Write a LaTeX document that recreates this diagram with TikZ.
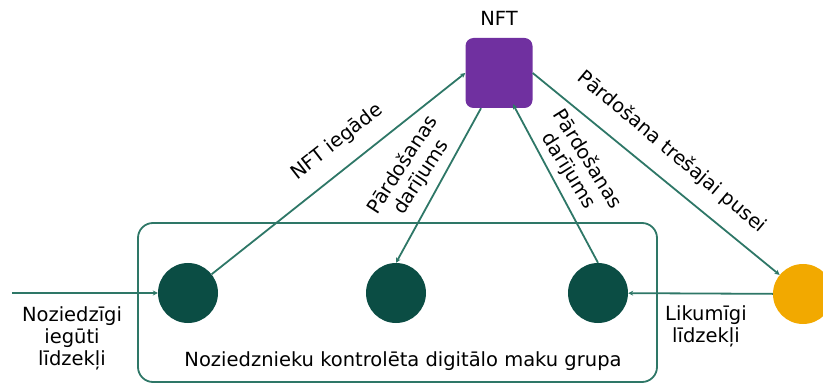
\documentclass[tikz,border=0pt]{standalone}
\usepackage{fontspec}
\setmainfont{DejaVu Sans}
\usetikzlibrary{arrows.meta}
\definecolor{linegreen}{HTML}{2E7767}
\definecolor{walletgreen}{HTML}{0B4D44}
\definecolor{nftpurple}{HTML}{7030A0}
\definecolor{thirdorange}{HTML}{F2A900}
\tikzset{
  lbl/.style={font=\fontsize{19.5}{22}\selectfont, inner sep=1pt, align=center},
  flow/.style={draw=linegreen, line width=1.8pt, -{Stealth[length=5pt,width=5pt]}},
  wallet/.style={circle, fill=walletgreen, minimum size=60pt, inner sep=0pt},
}
\begin{document}
\begin{tikzpicture}[x=1pt,y=-1pt]
	\useasboundingbox (0,0) rectangle (823,385);
	\draw[linegreen, line width=1.8pt, rounded corners=15pt] (138,223) rectangle (657,382);
	\node[lbl] (lgroup) at (403,361) {Noziedznieku kontrolēta digitālo maku grupa};
	
	\node[fill=nftpurple, rounded corners=8pt, minimum width=67pt, minimum height=70pt] (nft) at (499,73) {};
	\node[lbl] (lnft) at (499,18) {NFT};
	
	\node[wallet] (w1) at (188,293) {};
	\node[wallet] (w2) at (396,293) {};
	\node[wallet] (w3) at (598,293) {};
	\node[circle, fill=thirdorange, minimum size=60pt, inner sep=0pt] (buyer) at (803,294) {};
	\coordinate (src) at (12,293);
	
	\draw[flow] (src) -- (w1);
	\draw[flow] (buyer) -- (w3);
	\draw[flow] (w1) -- (nft.west);
	\draw[flow] ([xshift=-18pt]nft.south) -- (w2.north);
	\draw[flow] (w3.north) -- ([xshift=14pt,yshift=4pt]nft.south);
	\draw[flow] (nft.east) -- (buyer);
	
	\node[lbl, rotate=38] (lbuy) at (337,142) {NFT iegāde};
	\node[lbl, rotate=57] (lsell1) at (412,171) {Pārdošanas\\darījums};
	\node[lbl, rotate=-58] (lsell2) at (578,165) {Pārdošanas\\darījums};
	\node[lbl, rotate=-40] (lthird) at (672,152) {Pārdošana trešajai pusei};
	\node[lbl] (lcrime) at (72,338) {Noziedzīgi\\iegūti\\līdzekļi};
	\node[lbl] (llegal) at (706,326) {Likumīgi\\līdzekļi};
\end{tikzpicture}
\end{document}
